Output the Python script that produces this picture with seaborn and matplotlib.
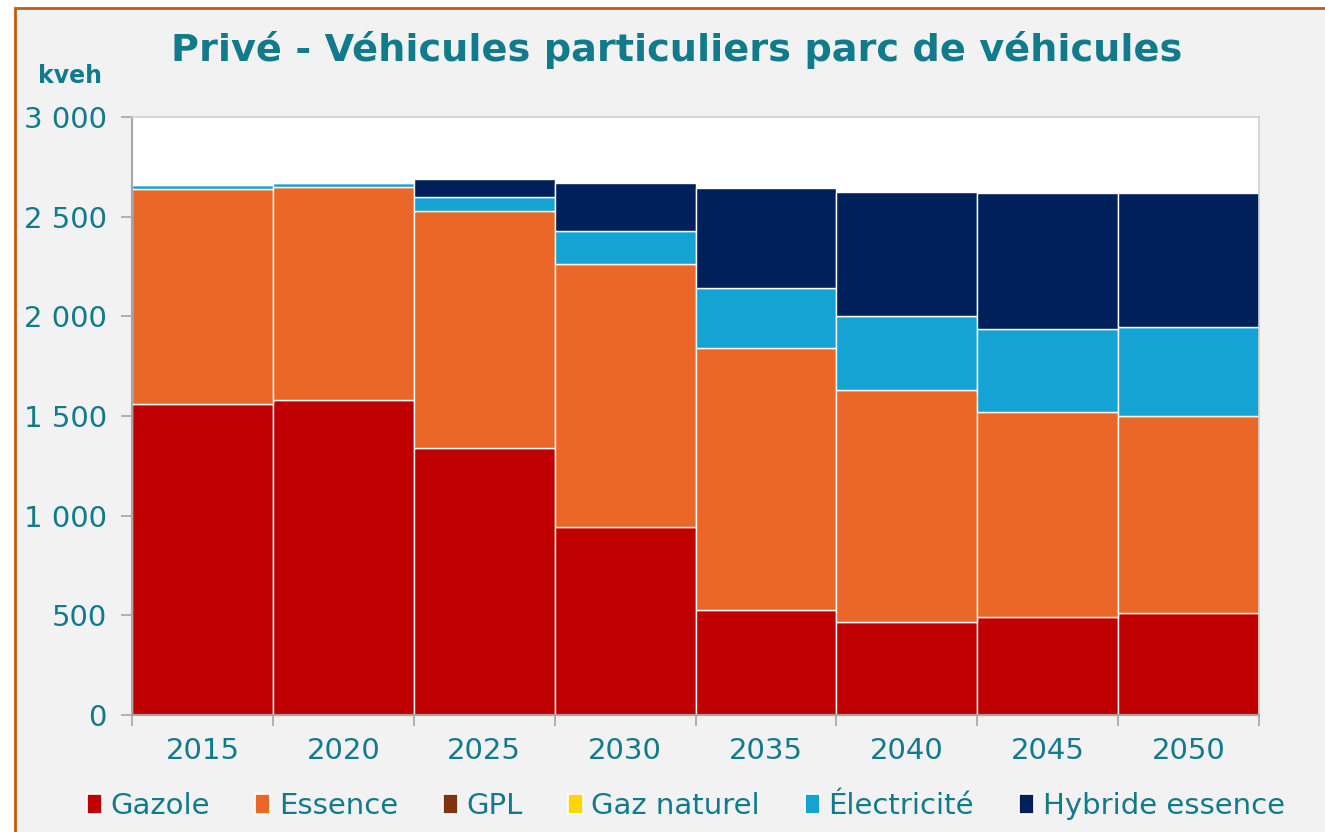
import matplotlib
matplotlib.use("Agg")
import matplotlib.pyplot as plt
import matplotlib.patches as mpatches
from matplotlib.ticker import FixedLocator, FuncFormatter
import numpy as np
import pandas as pd
import seaborn as sns

years = ["2015", "2020", "2025", "2030", "2035", "2040", "2045", "2050"]
gazole = [1560, 1580, 1340, 943, 527, 467, 492, 512]
essence = [1078, 1067, 1189, 1320, 1314, 1164, 1028, 988]
gpl = [0, 0, 0, 0, 0, 0, 0, 0]
gaz_naturel = [0, 0, 0, 0, 0, 0, 0, 0]
electricite = [20, 21, 70, 165, 301, 371, 417, 447]
hybride = [0, 0, 90, 241, 502, 622, 682, 672]

series_names = ["Gazole", "Essence", "GPL", "Gaz naturel", "Électricité", "Hybride essence"]
series_values = [gazole, essence, gpl, gaz_naturel, electricite, hybride]
colors = ["#C00000", "#EB6727", "#7F3310", "#FFD700", "#15A3D3", "#00205B"]

teal = "#117A8B"

sns.set_style("white")
plt.rcParams["font.family"] = ["DejaVu Sans"]

fig = plt.figure(figsize=(13.25, 8.32), dpi=100, facecolor="white")
# grey panel with orange frame (top and left visible)
fig.patches.append(mpatches.Rectangle((15 / 1325, -0.05), 1.1, 1 - 8 / 832 + 0.05,
                                      transform=fig.transFigure, facecolor="#F2F2F2",
                                      edgecolor="#C55A11", linewidth=2, zorder=-10))

ax = fig.add_axes([132 / 1325, 1 - 715 / 832, (1259 - 132) / 1325, (715 - 117) / 832])
ax.set_facecolor("white")

bottom = np.zeros(len(years))
for name, vals, col in zip(series_names, series_values, colors):
    df = pd.DataFrame({"year": years, "value": vals})
    lw = 1.0 if sum(vals) > 0 else 0
    sns.barplot(data=df, x="year", y="value", order=years, bottom=bottom, width=1.0,
                color=col, edgecolor="white", linewidth=lw, saturation=1, ax=ax,
                errorbar=None)
    bottom = bottom + np.array(vals)

ax.set_xlim(-0.5, len(years) - 0.5)
ax.set_ylim(0, 3000)
ax.set_yticks(np.arange(0, 3001, 500))
ax.yaxis.set_major_formatter(FuncFormatter(lambda v, p: f"{int(v):,}".replace(",", " ")))
ax.set_xlabel("")
ax.set_ylabel("")

ax.tick_params(axis="y", which="major", direction="out", length=8, width=1.2,
               color="#A6A6A6", labelsize=21, labelcolor=teal, pad=10, left=True)
ax.tick_params(axis="x", which="major", length=0, labelsize=21, labelcolor=teal, pad=16)
ax.xaxis.set_minor_locator(FixedLocator(np.arange(-0.5, len(years), 1.0)))
ax.tick_params(axis="x", which="minor", direction="out", length=8, width=1.2,
               color="#A6A6A6", bottom=True)

for side in ["left", "bottom"]:
    ax.spines[side].set_color("#A6A6A6")
    ax.spines[side].set_linewidth(1.5)
for side in ["top", "right"]:
    ax.spines[side].set_color("#D0D0D0")
    ax.spines[side].set_linewidth(1.2)

fig.text(677 / 1325, 1 - 50 / 832, "Privé - Véhicules particuliers parc de véhicules",
         ha="center", va="center", fontsize=27.5, fontweight="bold", color=teal)
fig.text(70 / 1325, 1 - 76 / 832, "kveh", ha="center", va="center",
         fontsize=17, fontweight="bold", color=teal)

handles = [mpatches.Patch(facecolor=c, edgecolor="white", linewidth=1.2, label=n)
           for n, c in zip(series_names, colors)]
leg = fig.legend(handles=handles, loc="center", bbox_to_anchor=(686 / 1325, 1 - 806 / 832),
                 ncol=6, frameon=False, fontsize=21, handlelength=0.5, handleheight=0.7,
                 handletextpad=0.3, columnspacing=1.55, labelcolor=teal)

fig.savefig("out.png", dpi=100, facecolor=fig.get_facecolor())
